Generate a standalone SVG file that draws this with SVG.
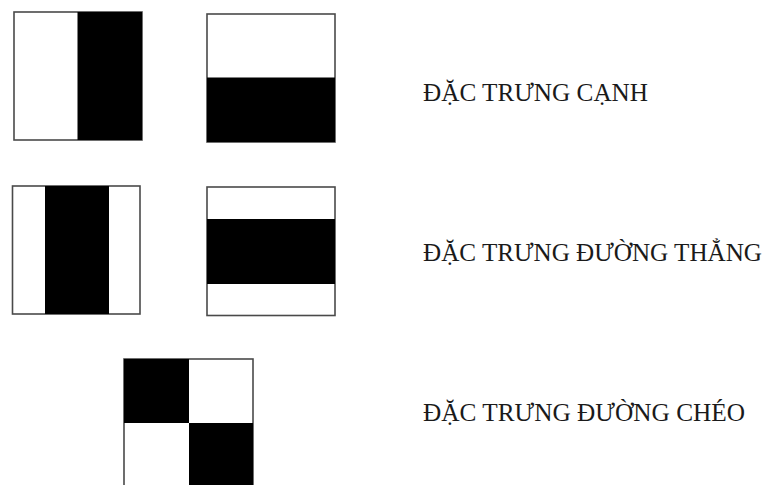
<svg xmlns="http://www.w3.org/2000/svg" width="770" height="485" viewBox="0 0 770 485">
<style>
.frame{fill:#fff;stroke:#4a4a4a;stroke-width:1.6}
.blk{fill:#000}
.lbl{font-family:"Liberation Serif","Times New Roman",serif;font-size:25px;fill:#1a1a1a}
</style>
<rect width="770" height="485" fill="#fff"/>
<g id="edge-vertical">
<rect class="frame" x="14" y="12" width="128" height="128"/>
<rect class="blk" x="77.5" y="12" width="64.5" height="128"/>
</g>
<g id="edge-horizontal">
<rect class="frame" x="207" y="14" width="128" height="128"/>
<rect class="blk" x="207" y="77.5" width="128" height="64.5"/>
</g>
<g id="line-vertical">
<rect class="frame" x="12.5" y="186" width="127.5" height="128"/>
<rect class="blk" x="45" y="186" width="64" height="128"/>
</g>
<g id="line-horizontal">
<rect class="frame" x="207" y="187" width="128" height="128.5"/>
<rect class="blk" x="207" y="219" width="128" height="65"/>
</g>
<g id="diagonal">
<rect class="frame" x="124" y="359" width="129" height="130"/>
<rect class="blk" x="124" y="359" width="65" height="64"/>
<rect class="blk" x="189" y="423" width="64" height="66"/>
</g>
<g id="labels">
<text class="lbl" x="423" y="101" textLength="225" lengthAdjust="spacingAndGlyphs">ĐẶC TRƯNG CẠNH</text>
<text class="lbl" x="423" y="261" textLength="339" lengthAdjust="spacingAndGlyphs">ĐẶC TRƯNG ĐƯỜNG THẲNG</text>
<text class="lbl" x="423" y="421" textLength="322" lengthAdjust="spacingAndGlyphs">ĐẶC TRƯNG ĐƯỜNG CHÉO</text>
</g>
</svg>
